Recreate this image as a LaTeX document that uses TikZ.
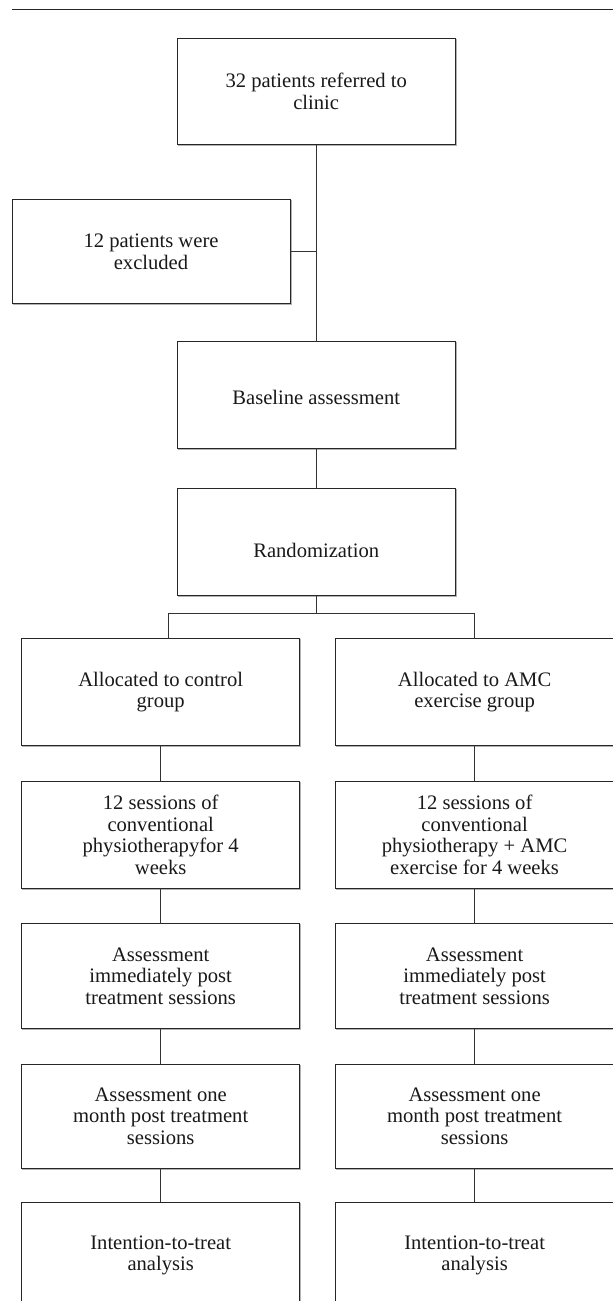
\documentclass[tikz,border=0pt]{standalone}
\usepackage{fontspec}
\setmainfont{Liberation Serif}
\begin{document}
\begin{tikzpicture}[x=1pt,y=-1pt,
  boxstyle/.style={draw=black!85, line width=1pt, fill=white, inner sep=0pt, outer sep=0pt,
    align=center, text=black!90,
    font=\fontsize{20.6}{21.7}\selectfont,
    preaction={draw=black!30, line width=1pt, transform canvas={xshift=1pt,yshift=-1pt}}},
  colbox/.style={boxstyle, minimum width=278.4pt, minimum height=106.6pt},
  conn/.style={draw=black!80, line width=1pt}]
\useasboundingbox (0,0) rectangle (613,1301);
\clip (0,0) rectangle (613,1301);
\fill[white] (0,0) rectangle (613,1301);
% top rule
\coordinate (ruleL) at (12,9.5);
\coordinate (ruleR) at (613,9.5);
\draw[draw=black!85, line width=1pt] (ruleL) -- (ruleR);
% central column
\node[colbox] (clinic) at (316.2,91.5) {32 patients referred to\\clinic};
\node[boxstyle, minimum width=278pt, minimum height=103.7pt] (excl) at (151,251.5) {12 patients were\\excluded};
\node[colbox, text height=20pt] (base) at (316.2,395) {Baseline assessment};
\node[colbox, text height=31pt] (rand) at (316.2,541.8) {Randomization};
% left column
\node[colbox] (alc) at (160.7,692) {Allocated to control\\group};
\node[colbox] (sesc) at (160.7,834.7) {12 sessions of\\conventional\\physiotherapyfor 4\\weeks};
\node[colbox, minimum height=104.3pt] (imc) at (160.7,976) {Assessment\\immediately post\\treatment sessions};
\node[colbox, minimum height=104pt] (omc) at (160.7,1116) {Assessment one\\month post treatment\\sessions};
\node[colbox] (itc) at (160.7,1255.5) {Intention-to-treat\\analysis};
% right column
\node[colbox] (ala) at (474.6,692) {Allocated to AMC\\exercise group};
\node[colbox] (sesa) at (474.6,834.7) {12 sessions of\\conventional\\physiotherapy + AMC\\exercise for 4 weeks};
\node[colbox, minimum height=104.3pt] (ima) at (474.6,976) {Assessment\\immediately post\\treatment sessions};
\node[colbox, minimum height=104pt] (oma) at (474.6,1116) {Assessment one\\month post treatment\\sessions};
\node[colbox] (ita) at (474.6,1255.5) {Intention-to-treat\\analysis};
% connectors
\coordinate (exj) at (clinic.south |- excl.east);
\draw[conn] (clinic.south) -- (base.north);
\draw[conn] (excl.east) -- (exj);
\draw[conn] (base.south) -- (rand.north);
\coordinate (brj) at (316.2,613.3);
\coordinate (brL) at (168.5,613.3);
\coordinate (brR) at (474.6,613.3);
\draw[conn] (rand.south) -- (brj);
\draw[conn] (brL) -- (brR);
\draw[conn] (brL) -- (brL |- alc.north);
\draw[conn] (brR) -- (ala.north);
\draw[conn] (alc.south) -- (sesc.north);
\draw[conn] (sesc.south) -- (imc.north);
\draw[conn] (imc.south) -- (omc.north);
\draw[conn] (omc.south) -- (itc.north);
\draw[conn] (ala.south) -- (sesa.north);
\draw[conn] (sesa.south) -- (ima.north);
\draw[conn] (ima.south) -- (oma.north);
\draw[conn] (oma.south) -- (ita.north);
\end{tikzpicture}
\end{document}
